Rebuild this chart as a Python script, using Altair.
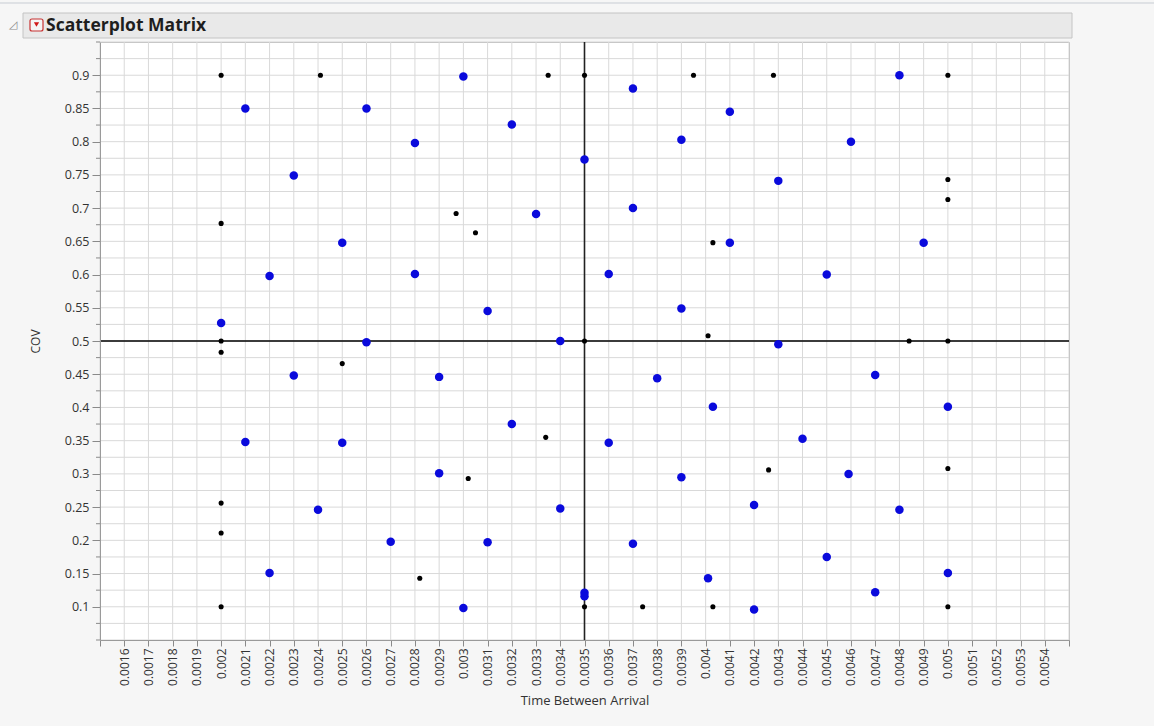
import altair as alt
import pandas as pd

# ---- data ----
blue_x = [0.0021, 0.0026, 0.0030, 0.0032, 0.0028, 0.0035, 0.0023, 0.0033, 0.0025, 0.0022,
          0.0028, 0.0031, 0.0020, 0.0026, 0.0034, 0.0023, 0.0029, 0.0032, 0.0021, 0.0025,
          0.0029, 0.0024, 0.0034, 0.0027, 0.0031, 0.0022, 0.0030, 0.0035, 0.0035,
          0.0037, 0.0048, 0.0041, 0.0039, 0.0046, 0.0043, 0.0037, 0.0041, 0.0049, 0.0036,
          0.0045, 0.0039, 0.0043, 0.0038, 0.0047, 0.00403, 0.0050, 0.0036, 0.0044, 0.0039,
          0.00459, 0.0042, 0.0048, 0.0037, 0.0045, 0.00401, 0.0050, 0.0047, 0.0042]
blue_y = [0.85, 0.85, 0.898, 0.826, 0.798, 0.773, 0.749, 0.691, 0.648, 0.598,
          0.601, 0.545, 0.527, 0.498, 0.50, 0.448, 0.446, 0.375, 0.348, 0.347,
          0.301, 0.246, 0.248, 0.198, 0.197, 0.151, 0.098, 0.121, 0.116,
          0.88, 0.90, 0.845, 0.803, 0.80, 0.741, 0.70, 0.648, 0.648, 0.601,
          0.60, 0.549, 0.495, 0.444, 0.449, 0.401, 0.401, 0.347, 0.353, 0.295,
          0.30, 0.253, 0.246, 0.195, 0.175, 0.143, 0.151, 0.122, 0.096]

black_x = [0.0020, 0.00241, 0.00335, 0.0035, 0.0020, 0.00297, 0.00305, 0.0020, 0.0020, 0.0035,
           0.0025, 0.00334, 0.00302, 0.0020, 0.0020, 0.00282, 0.0020, 0.0035, 0.00395, 0.00428,
           0.0050, 0.0050, 0.0050, 0.00403, 0.00401, 0.00484, 0.0050, 0.00426, 0.0050, 0.00374,
           0.00403, 0.0050]
black_y = [0.90, 0.90, 0.90, 0.90, 0.677, 0.692, 0.663, 0.50, 0.483, 0.50,
           0.466, 0.355, 0.293, 0.256, 0.211, 0.143, 0.10, 0.10, 0.90, 0.90,
           0.90, 0.743, 0.713, 0.648, 0.508, 0.50, 0.50, 0.306, 0.308, 0.10,
           0.10, 0.10]

x_ticks = [round(0.0015 + 0.0001 * i, 4) for i in range(41)]
y_major = [round(0.1 + 0.05 * i, 2) for i in range(17)]
y_grid = [round(0.05 + 0.025 * i, 3) for i in range(37)]
y_minor = [v for v in y_grid if v not in y_major]
ref_x = [0.0035]
ref_y = [0.5]

FONT = "Open Sans"
W, H = 969, 598
TXT = "#333333"

pts = pd.DataFrame({
    "x": blue_x + black_x,
    "y": blue_y + black_y,
    "series": ["blue"] * len(blue_x) + ["black"] * len(black_x),
    "order": [0] * len(blue_x) + [1] * len(black_x),
})
pts["sz"] = pts["series"].map({"blue": 72, "black": 26})

xscale = alt.Scale(domain=[0.0015, 0.0055], nice=False, zero=False)
yscale = alt.Scale(domain=[0.05, 0.95], nice=False, zero=False)

x_axis = alt.Axis(
    values=x_ticks,
    labelExpr="(datum.value < 0.00155 || datum.value > 0.00545) ? '' : format(datum.value, '.4~f')",
    labelAngle=270, labelAlign="right", labelBaseline="middle",
    labelFont=FONT, labelFontSize=12, labelColor=TXT,
    labelPadding=2, labelOverlap=False, labelFlush=False,
    tickSize=6, tickColor="#8a8a8a", domainColor="#9a9a9a", grid=False,
    title="Time Between Arrival", titleFont=FONT, titleFontSize=13,
    titleFontWeight="normal", titleColor=TXT, titlePadding=9,
    zindex=1,
)
y_axis = alt.Axis(
    values=y_major, format=".2~f",
    labelFont=FONT, labelFontSize=12.5, labelColor=TXT, labelPadding=3,
    labelOverlap=False, labelFlush=False,
    tickSize=8, tickColor="#8a8a8a", domainColor="#9a9a9a", grid=False,
    title="COV", titleFont=FONT, titleFontSize=12, titleFontWeight="normal",
    titleColor=TXT, titlePadding=22,
    zindex=1,
)

def X(field="x"):
    return alt.X(f"{field}:Q", scale=xscale, axis=x_axis, title="Time Between Arrival")

def Y(field="y"):
    return alt.Y(f"{field}:Q", scale=yscale, axis=y_axis, title="COV")

vgrid = alt.Chart(pd.DataFrame({"x": x_ticks})).mark_rule(
    color="#d9d9d9", strokeWidth=1
).encode(x=X())

hgrid = alt.Chart(pd.DataFrame({"y": y_grid})).mark_rule(
    color="#d9d9d9", strokeWidth=1
).encode(y=Y())

minor_ticks = alt.Chart(pd.DataFrame({"y": y_minor})).mark_rule(
    color="#8a8a8a", strokeWidth=1
).encode(y=Y(), x=alt.value(-4), x2=alt.value(0))

ref_v = alt.Chart(pd.DataFrame({"x": ref_x})).mark_rule(
    color="#222222", strokeWidth=1.6
).encode(x=X())

ref_h = alt.Chart(pd.DataFrame({"y": ref_y})).mark_rule(
    color="#000000", strokeWidth=1.4
).encode(y=Y())

points = alt.Chart(pts).mark_circle(opacity=1).encode(
    x=X(),
    y=Y(),
    color=alt.Color("series:N", scale=alt.Scale(domain=["blue", "black"],
                                                range=["#0a0adc", "#000000"]), legend=None),
    size=alt.Size("sz:Q", scale=None, legend=None),
    order=alt.Order("order:Q"),
)

one = pd.DataFrame({"a": [0]})

top_line = alt.Chart(one).mark_rule(color="#c7ccd3", strokeWidth=1).encode(
    x=alt.value(-100), x2=alt.value(1054), y=alt.value(-39))

header = alt.Chart(one).mark_rect(fill="#e9e9e9", stroke="#c4c4c4", strokeWidth=1).encode(
    x=alt.value(-77), x2=alt.value(972), y=alt.value(-29), y2=alt.value(-4))

corner_icon = alt.Chart(one).mark_text(
    text="◿", font="DejaVu Sans", fontSize=11, color="#8c8c8c", align="center", baseline="middle"
).encode(x=alt.value(-87), y=alt.value(-17))

red_box = alt.Chart(one).mark_rect(
    fill="#f4f4f4", stroke="#c83232", strokeWidth=1.2, cornerRadius=2
).encode(x=alt.value(-70), x2=alt.value(-57), y=alt.value(-23), y2=alt.value(-11))

red_tri = alt.Chart(one).mark_point(
    shape="triangle-down", filled=True, color="#d01818", size=28, opacity=1
).encode(x=alt.value(-63.5), y=alt.value(-17.5))

title = alt.Chart(one).mark_text(
    text="Scatterplot Matrix", font=FONT, fontSize=17.5, fontWeight="bold",
    color="#1e1e1e", align="left", baseline="middle"
).encode(x=alt.value(-54), y=alt.value(-16))

chart = alt.layer(
    vgrid, hgrid, minor_ticks, ref_v, ref_h, points,
    top_line, header, corner_icon, red_box, red_tri, title
).properties(
    width=W, height=H,
    padding={"left": 100, "top": 42, "right": 85, "bottom": 86},
    autosize=alt.AutoSizeParams(type="none"),
    background="#f6f6f6",
).configure_view(stroke="#b4b4b4", strokeWidth=1, fill="white")

chart.save("out.html", embed_options={"renderer": "svg", "actions": False})
